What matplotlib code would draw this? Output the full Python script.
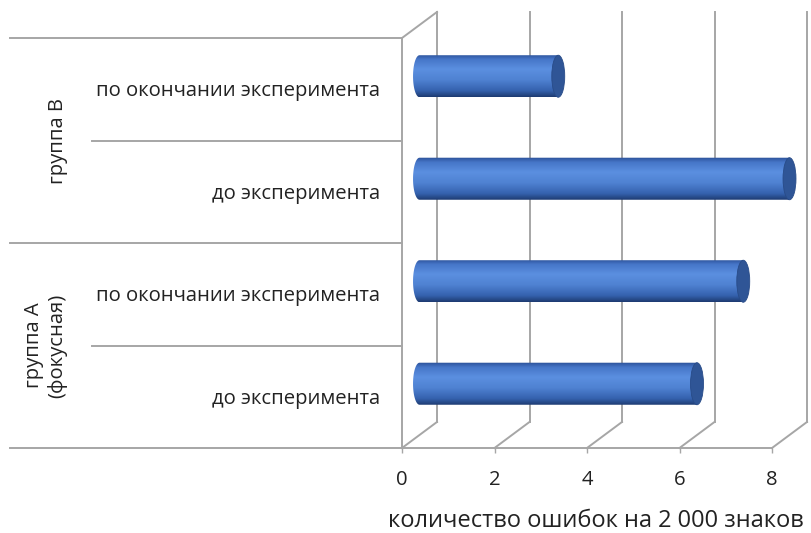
import numpy as np
import matplotlib
matplotlib.use("Agg")
import matplotlib.pyplot as plt
from matplotlib.path import Path
from matplotlib.patches import PathPatch, Ellipse
from matplotlib.colors import LinearSegmentedColormap

plt.rcParams['font.family'] = ['Open Sans', 'DejaVu Sans']

# --- data -------------------------------------------------------------
groups = ["группа А\n(фокусная)", "группа В"]
stages = ["до эксперимента", "по окончании эксперимента"]
# errors per 2 000 characters, order: A-before, A-after, B-before, B-after
errors = [6, 7, 8, 3]
x_ticks = [0, 2, 4, 6, 8]
x_title = "количество ошибок на 2 000 знаков"

# --- figure / axes (front plane of the 3-D box) -----------------------
W, H = 811, 533
fig = plt.figure(figsize=(W / 100, H / 100), dpi=100)
ax = fig.add_axes([402 / W, (H - 448) / H, 370 / W, 410 / H])
n_cat = len(errors)
for s in ax.spines.values():
    s.set_visible(False)

# depth offset of the back wall, in data units
DX, DY = 0.757, 0.254
grid_c = '#a6a6a6'
glw = 1.4

# back wall gridlines and floor diagonals
for k in x_ticks:
    ax.plot([k + DX, k + DX], [DY, n_cat + DY], color=grid_c, lw=glw, clip_on=False, zorder=1)
    ax.plot([k, k + DX], [0, DY], color=grid_c, lw=glw, clip_on=False, zorder=1)
# left wall
ax.plot([0, 0], [0, n_cat], color=grid_c, lw=glw, clip_on=False, zorder=1)
ax.plot([0, DX], [n_cat, n_cat + DY], color=grid_c, lw=glw, clip_on=False, zorder=1)
# floor front edge
ax.plot([0, 8], [0, 0], color=grid_c, lw=glw, clip_on=False, zorder=1)

# category divider lines on the left
x_outer, x_inner = -8.476, -6.70
for yb in range(n_cat + 1):
    x_start = x_outer if yb % 2 == 0 else x_inner
    ax.plot([x_start, 0], [yb, yb], color=grid_c, lw=glw, clip_on=False, zorder=1)

# --- cylinders --------------------------------------------------------
cmap = LinearSegmentedColormap.from_list(
    'cyl', [(0.0, '#2a4f96'), (0.12, '#4676c8'), (0.35, '#5b8fe0'),
            (0.6, '#4f82d2'), (0.85, '#3562ae'), (1.0, '#1d3a70')])
grad = np.linspace(0, 1, 256).reshape(-1, 1)
rx, hh = 0.14, 0.205

for i, v in enumerate(errors):
    yc = i + 0.5 + DY / 2
    x0 = DX / 2
    x1 = v + DX / 2
    t = np.linspace(np.pi / 2, 3 * np.pi / 2, 40)
    # body outline: straight top/bottom, rounded left end
    verts = [(x0, yc + hh), (x1, yc + hh), (x1, yc - hh), (x0, yc - hh)]
    verts += [(x0 + rx * np.cos(a), yc + hh * np.sin(a)) for a in t[::-1]]
    verts.append((x0, yc + hh))
    patch = PathPatch(Path(verts), facecolor='none', edgecolor='none',
                      transform=ax.transData)
    im = ax.imshow(grad, cmap=cmap, aspect='auto',
                   extent=[x0 - rx, x1, yc - hh, yc + hh],
                   origin='upper', zorder=3, interpolation='bilinear')
    im.set_clip_box(fig.bbox)
    im.set_clip_path(patch)
    cap = Ellipse((x1, yc), 2 * rx, 2 * hh, facecolor='#2f5596',
                  edgecolor='#284b88', lw=0.6, zorder=4, clip_on=False)
    ax.add_patch(cap)

ax.set_xlim(0, 8)
ax.set_ylim(0, n_cat)

# --- labels -----------------------------------------------------------
fs = 14.6
for i in range(n_cat):
    ax.text(-0.476, i + 0.48, stages[i % 2], ha='right', va='center',
            fontsize=fs, color='#222222', clip_on=False)
for g, name in enumerate(groups):
    xg = -7.70 if '\n' in name else -7.44
    ax.text(xg, 2 * g + 1, name, ha='center', va='center', rotation=90,
            fontsize=fs, color='#222222', multialignment='center',
            linespacing=1.25, clip_on=False)

ax.set_yticks([])
ax.set_xticks(x_ticks)
ax.set_xticklabels([str(t) for t in x_ticks])
ax.tick_params(axis='x', length=3.6, width=1.0, color=grid_c, pad=12,
               labelsize=fs, labelcolor='#222222')
ax.text(0.524, -0.178, x_title, transform=ax.transAxes, ha='center',
        va='center', fontsize=17, color='#222222')

fig.savefig('out.png', dpi=100)
